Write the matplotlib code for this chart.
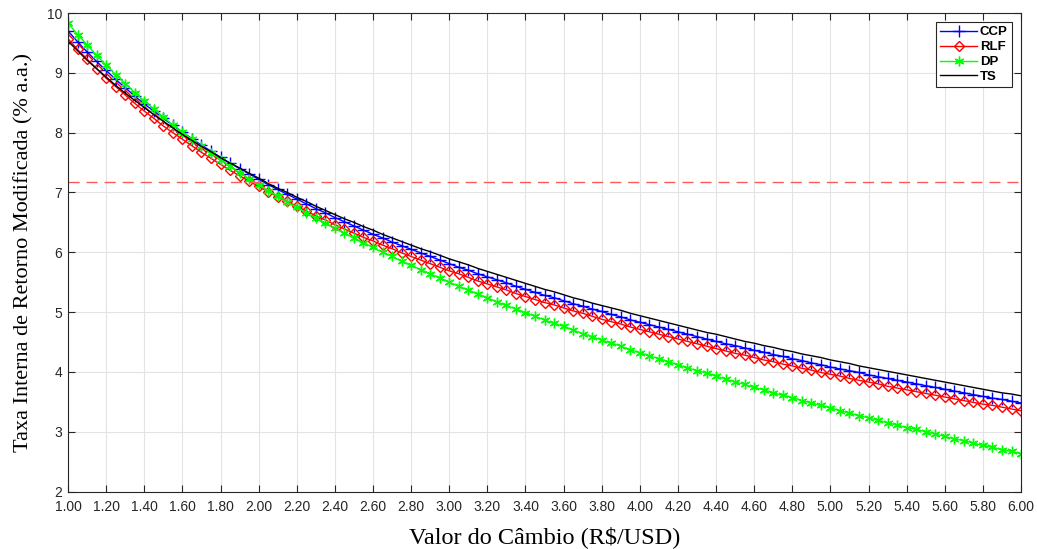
import numpy as np
import matplotlib.pyplot as plt
from matplotlib.ticker import MultipleLocator, FormatStrFormatter

# valor do cambio R$/USD, passo de 0.05
cambio = np.linspace(1.00, 6.00, 101)

# TIRM (% a.a.)
ccp = [9.70, 9.52, 9.35, 9.19, 9.04, 8.89, 8.75, 8.61, 8.48, 8.36, 8.24, 8.12, 8.01, 7.90, 7.79, 7.69, 7.59, 7.49, 7.40, 7.31,
       7.22, 7.13, 7.05, 6.97, 6.89, 6.81, 6.73, 6.66, 6.58, 6.51, 6.44, 6.37, 6.30, 6.24, 6.17, 6.11, 6.05, 5.99, 5.93, 5.87,
       5.81, 5.75, 5.70, 5.64, 5.59, 5.54, 5.49, 5.43, 5.38, 5.33, 5.28, 5.24, 5.19, 5.14, 5.10, 5.05, 5.01, 4.96, 4.92, 4.87,
       4.83, 4.79, 4.75, 4.71, 4.67, 4.63, 4.59, 4.55, 4.51, 4.47, 4.44, 4.40, 4.36, 4.33, 4.29, 4.26, 4.22, 4.19, 4.15, 4.12,
       4.08, 4.05, 4.02, 3.99, 3.95, 3.92, 3.89, 3.86, 3.83, 3.80, 3.77, 3.74, 3.71, 3.68, 3.65, 3.62, 3.59, 3.56, 3.54, 3.51,
       3.48]
rlf = [9.57, 9.39, 9.23, 9.07, 8.91, 8.77, 8.63, 8.49, 8.36, 8.24, 8.11, 8.00, 7.89, 7.78, 7.67, 7.57, 7.47, 7.37, 7.28, 7.19,
       7.10, 7.01, 6.93, 6.85, 6.77, 6.69, 6.61, 6.54, 6.46, 6.39, 6.32, 6.25, 6.19, 6.12, 6.06, 5.99, 5.93, 5.87, 5.81, 5.75,
       5.69, 5.64, 5.58, 5.52, 5.47, 5.42, 5.37, 5.31, 5.26, 5.21, 5.16, 5.12, 5.07, 5.02, 4.98, 4.93, 4.88, 4.84, 4.80, 4.75,
       4.71, 4.67, 4.63, 4.59, 4.55, 4.51, 4.47, 4.43, 4.39, 4.35, 4.31, 4.28, 4.24, 4.20, 4.17, 4.13, 4.10, 4.06, 4.03, 3.99,
       3.96, 3.93, 3.89, 3.86, 3.83, 3.80, 3.76, 3.73, 3.70, 3.67, 3.64, 3.61, 3.58, 3.55, 3.52, 3.49, 3.46, 3.44, 3.41, 3.38,
       3.35]
dp = [9.83, 9.64, 9.47, 9.29, 9.13, 8.97, 8.82, 8.67, 8.53, 8.40, 8.26, 8.13, 8.01, 7.89, 7.77, 7.66, 7.55, 7.44, 7.33, 7.23,
      7.13, 7.03, 6.94, 6.84, 6.75, 6.66, 6.57, 6.49, 6.40, 6.32, 6.24, 6.16, 6.08, 6.00, 5.93, 5.85, 5.78, 5.71, 5.64, 5.57,
      5.50, 5.43, 5.37, 5.30, 5.24, 5.17, 5.11, 5.05, 4.99, 4.93, 4.87, 4.81, 4.76, 4.70, 4.64, 4.59, 4.53, 4.48, 4.43, 4.37,
      4.32, 4.27, 4.22, 4.17, 4.12, 4.07, 4.02, 3.98, 3.93, 3.88, 3.83, 3.79, 3.74, 3.70, 3.65, 3.61, 3.57, 3.52, 3.48, 3.44,
      3.40, 3.35, 3.31, 3.27, 3.23, 3.19, 3.15, 3.11, 3.07, 3.04, 3.00, 2.96, 2.92, 2.88, 2.85, 2.81, 2.77, 2.74, 2.70, 2.67,
      2.63]
ts = [9.53, 9.37, 9.21, 9.07, 8.93, 8.79, 8.66, 8.54, 8.42, 8.30, 8.19, 8.08, 7.97, 7.87, 7.77, 7.68, 7.58, 7.49, 7.41, 7.32,
      7.24, 7.15, 7.07, 7.00, 6.92, 6.85, 6.77, 6.70, 6.63, 6.56, 6.50, 6.43, 6.37, 6.30, 6.24, 6.18, 6.12, 6.06, 6.01, 5.95,
      5.89, 5.84, 5.79, 5.73, 5.68, 5.63, 5.58, 5.53, 5.48, 5.43, 5.38, 5.34, 5.29, 5.24, 5.20, 5.15, 5.11, 5.07, 5.03, 4.98,
      4.94, 4.90, 4.86, 4.82, 4.78, 4.74, 4.70, 4.66, 4.63, 4.59, 4.55, 4.51, 4.48, 4.44, 4.41, 4.37, 4.34, 4.30, 4.27, 4.24,
      4.20, 4.17, 4.14, 4.10, 4.07, 4.04, 4.01, 3.98, 3.95, 3.92, 3.89, 3.86, 3.83, 3.80, 3.77, 3.74, 3.71, 3.68, 3.65, 3.63,
      3.60]
limite = 7.17   # linha tracejada

plt.rcParams['font.family'] = ['Liberation Sans', 'DejaVu Sans']
fig = plt.figure(figsize=(10.37, 5.49), dpi=100)
ax = fig.add_axes([0.0656, 0.1047, 0.919, 0.8716])

ax.plot(cambio, ccp, color='#0000ff', lw=1, marker='+', ms=8, mew=1, label='CCP')
ax.plot(cambio, rlf, color='#ff0000', lw=1, marker='D', ms=5, mfc='none', mew=1, label='RLF')
ax.plot(cambio, dp, color='#00ff00', lw=1, marker=(6, 2, 0), ms=7, mew=1, label='DP')
ax.plot(cambio, ts, color='black', lw=1, label='TS')
ax.axhline(limite, color='#ff5a5a', lw=1, ls=(0, (8, 5)))

ax.set_xlim(1, 6)
ax.set_ylim(2, 10)
ax.xaxis.set_major_locator(MultipleLocator(0.2))
ax.xaxis.set_major_formatter(FormatStrFormatter('%.2f'))
ax.yaxis.set_major_locator(MultipleLocator(1))
ax.tick_params(direction='in', top=True, right=True, length=5, labelsize=10, colors='#262626')
ax.tick_params(axis='x', pad=6)
ax.tick_params(axis='y', pad=4)
ax.grid(True, color='#e3e3e3', lw=0.8)
for s in ax.spines.values():
    s.set_color('#262626')
    s.set_linewidth(0.8)

ax.set_xlabel('Valor do Câmbio (R\\$/USD)', family='Liberation Serif', fontsize=17.5, labelpad=9)
ax.set_ylabel('Taxa Interna de Retorno Modificada (% a.a.)', family='Liberation Serif', fontsize=16, labelpad=10)

leg = ax.legend(loc='upper right', prop={'weight': 'bold', 'size': 9.5},
                handlelength=2.8, labelspacing=0.2, borderpad=0.3, handletextpad=0.2,
                fancybox=False, edgecolor='#262626', framealpha=1, borderaxespad=0.7)
leg.get_frame().set_linewidth(0.8)

fig.savefig('out.png', dpi=100)
